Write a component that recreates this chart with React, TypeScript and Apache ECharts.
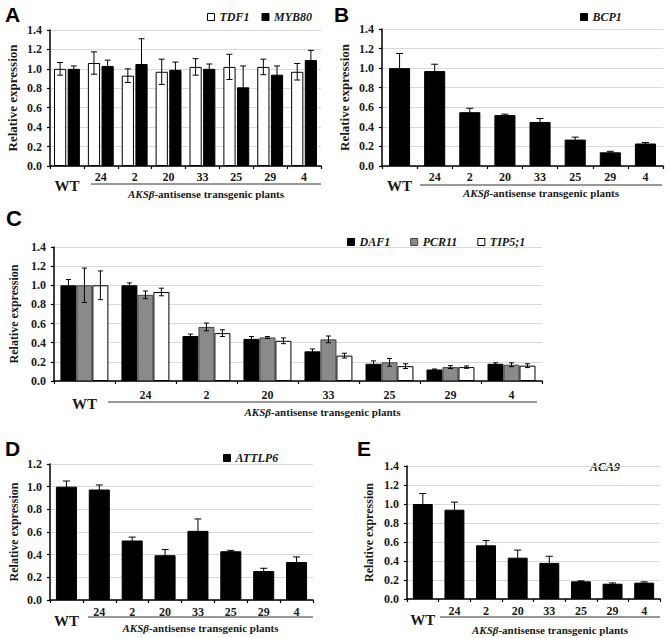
import React, { useEffect, useRef } from 'react';
import * as echarts from 'echarts';

// ---------- data ----------
const categories = ['WT', '24', '2', '20', '33', '25', '29', '4'];

// Panel A
const tdf1 = [1.0, 1.06, 0.93, 0.97, 1.02, 1.02, 1.02, 0.97];
const tdf1Err = [0.065, 0.115, 0.07, 0.13, 0.085, 0.13, 0.08, 0.085];
const myb80 = [1.0, 1.03, 1.05, 0.99, 1.0, 0.81, 0.94, 1.09];
const myb80Err = [0.03, 0.06, 0.26, 0.08, 0.05, 0.22, 0.09, 0.1];

// Panel B
const bcp1 = [1.0, 0.97, 0.55, 0.52, 0.45, 0.27, 0.14, 0.23];
const bcp1Err = [0.15, 0.07, 0.04, 0.01, 0.035, 0.025, 0.01, 0.01];

// Panel C
const daf1 = [1.0, 1.0, 0.47, 0.44, 0.31, 0.18, 0.12, 0.18];
const daf1Err = [0.06, 0.025, 0.02, 0.025, 0.025, 0.03, 0.005, 0.01];
const pcr11 = [1.0, 0.9, 0.565, 0.455, 0.435, 0.195, 0.145, 0.17];
const pcr11Err = [0.18, 0.04, 0.04, 0.01, 0.035, 0.04, 0.015, 0.02];
const tip51 = [1.0, 0.93, 0.5, 0.42, 0.265, 0.155, 0.145, 0.16];
const tip51Err = [0.15, 0.04, 0.035, 0.03, 0.025, 0.025, 0.012, 0.02];

// Panel D
const attlp6 = [1.0, 0.975, 0.525, 0.395, 0.61, 0.43, 0.255, 0.335];
const attlp6Err = [0.05, 0.04, 0.03, 0.05, 0.105, 0.008, 0.025, 0.045];

// Panel E
const aca9 = [1.0, 0.94, 0.565, 0.435, 0.38, 0.186, 0.161, 0.172];
const aca9Err = [0.11, 0.08, 0.05, 0.08, 0.07, 0.005, 0.008, 0.008];

const xTitleItalic = 'AKSβ';
const xTitleRest = '-antisense transgenic plants';
const yTitle = 'Relative expression';

// ---------- style ----------
const W = 671;
const H = 638;
const SERIF = "'Liberation Serif', 'Times New Roman', serif";
const SANS = "'Liberation Sans', Arial, sans-serif";
const TXT = '#1a1a1a';

type S = { name: string; values: number[]; err: number[]; fill: string; border: string };
type P = {
  letter: string;
  letterPos: [number, number, number];
  grid: { left: number; top: number; width: number; height: number };
  max: number;
  nameGap: number;
  nameSize: number;
  labelMargin: number;
  wtPad: number;
  barWidth: number;
  barGap: number;
  cap: number;
  series: S[];
  legend?: { left: number; top: number; gap: number };
  under: [number, number, number];
  textY: number;
};

const panels: P[] = [
  {
    letter: 'A', letterPos: [5, 4, 21],
    grid: { left: 50, top: 30, width: 271, height: 136 },
    max: 1.4, nameGap: 31, nameSize: 13, labelMargin: 5, wtPad: 7,
    barWidth: 0.36, barGap: 0.12, cap: 6,
    series: [
      { name: 'TDF1', values: tdf1, err: tdf1Err, fill: '#ffffff', border: '#000' },
      { name: 'MYB80', values: myb80, err: myb80Err, fill: '#000000', border: '#000' },
    ],
    legend: { left: 207, top: 11, gap: 12 },
    under: [91, 321, 184], textY: 194,
  },
  {
    letter: 'B', letterPos: [334, 4, 21],
    grid: { left: 382, top: 29, width: 281, height: 137 },
    max: 1.4, nameGap: 31, nameSize: 13, labelMargin: 5, wtPad: 7,
    barWidth: 0.6, barGap: 0.3, cap: 7,
    series: [{ name: 'BCP1', values: bcp1, err: bcp1Err, fill: '#000000', border: '#000' }],
    legend: { left: 580, top: 11, gap: 10 },
    under: [420, 662, 185], textY: 193,
  },
  {
    letter: 'C', letterPos: [6, 207, 22],
    grid: { left: 45, top: 247, width: 497, height: 134 },
    max: 1.4, nameGap: 26, nameSize: 12, labelMargin: 8, wtPad: 7,
    barWidth: 0.262, barGap: 0, cap: 5,
    series: [
      { name: 'DAF1', values: daf1, err: daf1Err, fill: '#000000', border: '#000' },
      { name: 'PCR11', values: pcr11, err: pcr11Err, fill: '#8a8a8a', border: '#444' },
      { name: 'TIP5;1', values: tip51, err: tip51Err, fill: '#ffffff', border: '#000' },
    ],
    legend: { left: 347, top: 236, gap: 20 },
    under: [108, 537, 402], textY: 412,
  },
  {
    letter: 'D', letterPos: [5, 438, 21],
    grid: { left: 50, top: 464, width: 263, height: 136 },
    max: 1.2, nameGap: 30, nameSize: 12, labelMargin: 6, wtPad: 7,
    barWidth: 0.64, barGap: 0.3, cap: 7,
    series: [{ name: 'ATTLP6', values: attlp6, err: attlp6Err, fill: '#000000', border: '#000' }],
    legend: { left: 223, top: 452, gap: 10 },
    under: [88, 313, 617], textY: 628,
  },
  {
    letter: 'E', letterPos: [357, 438, 21],
    grid: { left: 407, top: 466, width: 253, height: 133 },
    max: 1.4, nameGap: 32, nameSize: 12, labelMargin: 6, wtPad: 7,
    barWidth: 0.63, barGap: 0.3, cap: 7,
    series: [{ name: 'ACA9', values: aca9, err: aca9Err, fill: '#000000', border: '#000' }],
    under: [440, 660, 617], textY: 630,
  },
];

function errRender(k: number, n: number, bwRatio: number, gapRatio: number, cap: number) {
  return (params: any, api: any) => {
    const idx = api.value(0);
    const v = api.value(1);
    const e = api.value(2);
    const band = api.size([1, 0])[0];
    const bw = band * bwRatio;
    const gap = bw * gapRatio;
    const total = n * bw + (n - 1) * gap;
    const c = api.coord([idx, v]);
    const x = c[0] - total / 2 + k * (bw + gap) + bw / 2;
    const yt = api.coord([idx, v + e])[1];
    const yb = api.coord([idx, Math.max(0, v - e)])[1];
    const st = { stroke: '#000', lineWidth: 1 };
    return {
      type: 'group',
      children: [
        { type: 'line', shape: { x1: x, y1: yt, x2: x, y2: yb }, style: st },
        { type: 'line', shape: { x1: x - cap / 2, y1: yt, x2: x + cap / 2, y2: yt }, style: st },
        { type: 'line', shape: { x1: x - cap / 2, y1: yb, x2: x + cap / 2, y2: yb }, style: st },
      ],
    };
  };
}

export default function App() {
  const ref = useRef<HTMLDivElement>(null);
  useEffect(() => {
    if (!ref.current) return;
    const chart = echarts.init(ref.current, null, { renderer: 'svg', width: W, height: H });
    const grid: any[] = [];
    const xAxis: any[] = [];
    const yAxis: any[] = [];
    const series: any[] = [];
    const legend: any[] = [];
    const graphic: any[] = [];

    panels.forEach((p, i) => {
      grid.push({ ...p.grid, containLabel: false });
      xAxis.push({
        type: 'category',
        gridIndex: i,
        data: categories,
        axisLine: { lineStyle: { color: '#000', width: 1.5 } },
        axisTick: { show: true, length: 3, lineStyle: { color: '#000', width: 1.2 } },
        axisLabel: {
          interval: 0,
          margin: p.labelMargin,
          formatter: (v: string) => (v === 'WT' ? `{wt|${v}}` : `{n|${v}}`),
          rich: {
            wt: { fontFamily: SERIF, fontWeight: 'bold', fontSize: 15, color: TXT, padding: [p.wtPad, 0, 0, 0] },
            n: { fontFamily: SERIF, fontWeight: 'bold', fontSize: 12, color: TXT },
          },
        },
        splitLine: { show: false },
      });
      yAxis.push({
        type: 'value',
        gridIndex: i,
        min: 0,
        max: p.max,
        interval: 0.2,
        name: yTitle,
        nameLocation: 'middle',
        nameGap: p.nameGap,
        nameTextStyle: { fontFamily: SERIF, fontWeight: 'bold', fontSize: p.nameSize, color: TXT },
        axisLine: { show: true, lineStyle: { color: '#000', width: 1.5 } },
        axisTick: { show: true, length: 3, lineStyle: { color: '#000', width: 1.2 } },
        axisLabel: {
          margin: 8,
          formatter: (v: number) => v.toFixed(1),
          fontFamily: SERIF,
          fontWeight: 'bold',
          fontSize: 12,
          color: TXT,
        },
        splitLine: { show: true, lineStyle: { color: '#d9d9d9', width: 1 } },
      });
      const n = p.series.length;
      p.series.forEach((s) => {
        series.push({
          type: 'bar',
          name: s.name,
          xAxisIndex: i,
          yAxisIndex: i,
          data: s.values,
          barWidth: p.barWidth * 100 + '%',
          barGap: p.barGap * 100 + '%',
          itemStyle: { color: s.fill, borderColor: s.border, borderWidth: 1 },
          silent: true,
        });
      });
      p.series.forEach((s, k) => {
        series.push({
          type: 'custom',
          name: s.name + ' error',
          xAxisIndex: i,
          yAxisIndex: i,
          data: s.values.map((v, j) => [j, v, s.err[j]]),
          encode: { x: 0, y: 1 },
          z: 5,
          silent: true,
          renderItem: errRender(k, n, p.barWidth, p.barGap, p.cap),
        });
      });
      if (p.legend) {
        legend.push({
          data: p.series.map((s) => ({
            name: s.name,
            itemStyle: { color: s.fill, borderColor: s.border, borderWidth: 1 },
          })),
          left: p.legend.left,
          top: p.legend.top,
          itemGap: p.legend.gap,
          itemWidth: 7,
          itemHeight: 7,
          icon: 'rect',
          padding: 0,
          selectedMode: false,
          textStyle: { fontFamily: SERIF, fontStyle: 'italic', fontWeight: 'bold', fontSize: 12, color: TXT },
        });
      } else {
        graphic.push({
          type: 'text',
          x: 590,
          y: 467,
          style: {
            text: p.series[0].name,
            fontFamily: SERIF,
            fontStyle: 'italic',
            fontWeight: 'bold',
            fontSize: 12,
            fill: TXT,
            textAlign: 'left',
            textVerticalAlign: 'middle',
          },
        });
      }
      // panel letter
      graphic.push({
        type: 'text',
        x: p.letterPos[0],
        y: p.letterPos[1],
        style: {
          text: p.letter,
          fontFamily: SANS,
          fontWeight: 'bold',
          fontSize: p.letterPos[2],
          fill: '#000',
          textAlign: 'left',
          textVerticalAlign: 'top',
        },
      });
      // underline + x title
      const [ux1, ux2, uy] = p.under;
      graphic.push({
        type: 'line',
        shape: { x1: ux1, y1: uy, x2: ux2, y2: uy },
        style: { stroke: '#333', lineWidth: 1 },
      });
      graphic.push({
        type: 'text',
        x: (ux1 + ux2) / 2,
        y: p.textY,
        style: {
          text: `{i|${xTitleItalic}}{r|${xTitleRest}}`,
          rich: {
            i: { fontFamily: SERIF, fontStyle: 'italic', fontWeight: 'bold', fontSize: 11, fill: TXT, color: TXT },
            r: { fontFamily: SERIF, fontWeight: 'bold', fontSize: 11, fill: TXT, color: TXT },
          },
          textAlign: 'center',
          textVerticalAlign: 'middle',
        },
      });
    });

    chart.setOption({
      animation: false,
      backgroundColor: '#ffffff',
      grid,
      xAxis,
      yAxis,
      series,
      legend,
      graphic,
    });
    return () => chart.dispose();
  }, []);

  return (
    <div
      ref={ref}
      style={{ position: 'absolute', left: 0, top: 0, width: W, height: H, background: '#fff' }}
    />
  );
}
